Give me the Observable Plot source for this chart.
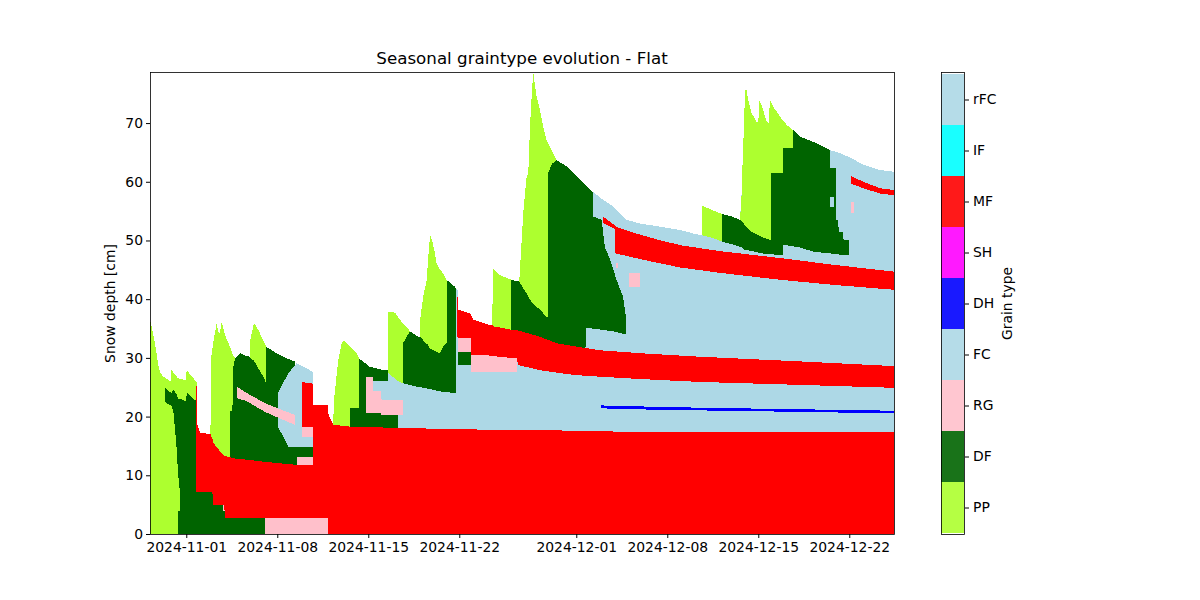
<!DOCTYPE html>
<html>
<head>
<meta charset="utf-8">
<script src="https://cdn.jsdelivr.net/npm/d3@7"></script>
<script src="https://cdn.jsdelivr.net/npm/@observablehq/plot@0.6"></script>
<style>
  html, body { margin: 0; padding: 0; background: #fff; }
  #wrap { position: relative; width: 1200px; height: 600px; background: #fff; font-family: "DejaVu Sans", sans-serif; }
  #title { position: absolute; left: 150px; width: 744px; top: 48px; text-align: center; font-size: 16.7px; color: #000; line-height: 20px; }
  #main { position: absolute; left: 0; top: 0; }
  #cbar { position: absolute; left: 900px; top: 0; }
</style>
</head>
<body>
<div id="wrap">
  <div id="main"></div>
  <div id="cbar"></div>
  <div id="title">Seasonal graintype evolution - Flat</div>
</div>
<script>
// ---- Data: days are offsets from the season reference date (2024-11-01 00:00 UTC)
const seasonStart = "2024-11-01T00:00Z";
const xDomain = ["2024-10-29T05:02Z", "2024-12-25T10:34Z"];
const xTicks = ["2024-11-01", "2024-11-08", "2024-11-15", "2024-11-22", "2024-12-01", "2024-12-08", "2024-12-15", "2024-12-22"];
const yTicks = [0, 10, 20, 30, 40, 50, 60, 70];
const yMax = 78.7;

const grainTypes = ["PP", "DF", "RG", "FC", "DH", "SH", "MF", "IF", "rFC"];
const grainColors = ["#adff2f", "#006400", "#ffc0cb", "#add8e6", "#0000ff", "#ff00ff", "#ff0000", "#00ffff", "#add8e6"];

// each layer: [day, bottom cm, top cm]
const ppA = [[-2.79,0,36.3],[-2.72,0,35.9],[-2.41,0,32.5],[-2.15,0,28.8],[-2.02,0,27.6],[-1.77,0,26.8],[-1.2,0,26.0],[-1.14,0,27.9],[-0.62,0,26.5],[-0.02,0,26.2],[0.03,0,27.9],[0.67,0,26.2],[0.8,0,25.9]];
const dfA = [[-1.64,22.5,24.9],[-1.15,21.8,24.0],[-1.0,21.1,24.6],[-0.77,15.5,23.9],[-0.62,10,23.1],[-0.5,7.5,23.0],[-0.45,0,23.0],[0.0,0,22.6],[0.03,0,24.2],[0.67,0,22.8],[0.8,0,22.7]];
const dfA2 = [[-0.62,0,4.0],[-0.45,0,4.0]];
const ppB1 = [[1.86,0,17.0],[1.9,0,29.9],[2.1,0,33.0],[2.34,0,35.9],[2.45,0,34.5],[2.6,0,34.2],[2.68,0,35.9],[2.75,0,35.9],[3.0,0,33.8],[3.36,0,31.9],[3.59,0,30.5],[3.75,0,30.0]];
const dfB = [[3.4,12,21.0],[3.55,12,21.0],[3.6,0,28.2],[3.75,0,29.8],[4.13,0,30.8],[4.5,0,30.4],[4.88,0,30.2],[5.21,0,30.5],[5.6,0,29.0],[6.0,0,27.5],[6.13,0,26.6],[6.15,0,31.9],[7.0,0,30.7],[7.85,0,29.8],[8.36,0,29.4],[8.45,0,15.0],[9.77,0,14.9]];
const ppB2 = [[4.88,30.0,30.2],[4.92,30.0,33.0],[5.21,29.5,36.0],[5.6,28.0,34.5],[6.0,26.5,32.6],[6.15,25.6,31.9]];
const fcB = [[7.05,18.3,24.0],[7.85,14.9,27.4],[8.49,14.9,29.1],[9.0,14.9,28.5],[9.77,14.9,27.6]];
const rgB = [[3.88,24.8,25.1],[3.95,23.0,25.0],[4.5,22.8,24.2],[6.05,20.8,22.3],[7.5,19.4,21.0],[8.36,18.6,20.3]];
const rgB2 = [[8.49,11.8,13.2],[9.77,11.8,13.2]];
const mfB = [[8.88,18.3,25.9],[9.77,18.3,25.6]];
const rgB3 = [[8.88,16.6,18.3],[9.77,16.6,18.3]];
const dfStrip = [[0.8,0,7.5],[6.05,0,7.5]];
const rgBottom = [[6.05,0,2.8],[10.92,0,2.8]];
const rgTiny = [[2.8,4.0,4.9],[2.98,4.0,4.9]];
const mfA = [[0.78,7.2,25.9],[0.86,7.2,18.6],[1.05,7.2,17.3],[1.86,7.2,17.0],[1.9,7.2,16.8],[2.0,7.2,16.3],[2.1,4.9,15.5],[2.72,4.9,13.7],[2.9,4.9,13.4],[3.0,2.8,13.3],[3.62,2.8,12.9],[5.28,2.8,12.5],[6.0,2.8,12.3],[8.36,2.8,11.8],[9.75,2.8,11.8],[9.77,2.8,22.0],[10.88,2.8,22.0]];
const pp3 = [[11.3,0,18.6],[11.36,0,22.8],[11.69,0,29.6],[11.95,0,32.5],[12.13,0,33.0],[12.59,0,31.9],[13.1,0,30.8],[13.3,0,29.9]];
const pp4 = [[15.5,0,27.9],[15.55,0,37.9],[16.05,0,37.7],[16.67,0,35.8],[16.95,0,35.3],[17.2,0,34.5]];
const dfC3 = [[12.59,0,21.4],[13.28,0,21.4],[13.3,0,29.9],[13.7,0,29.2],[14.1,0,28.5],[15.0,0,28.0],[15.5,0,27.9],[15.52,0,20.6],[16.3,0,20.6]];
const dfC4 = [[16.67,0,32.5],[17.2,0,34.5],[17.85,0,33.6],[17.97,0,33.6],[18.0,0,34.6],[18.23,0,34.0],[18.5,0,33.4],[18.75,0,32.6],[19.26,0,32.0],[19.52,0,31.8],[19.77,0,33.0],[20.0,0,33.5],[20.03,0,43.3],[20.67,0,42.1],[20.75,0,41.8]];
const pp5 = [[17.95,33.6,33.6],[18.0,33.6,36.7],[18.23,33.0,40.5],[18.5,32.4,43.3],[18.6,32.2,46.7],[18.75,31.6,50.9],[18.9,31.4,50.1],[19.13,31.2,47.8],[19.26,31.0,46.1],[19.52,30.8,45.0],[19.77,32.0,44.4],[20.03,32.5,43.3]];
const fcC = [[14.38,20.6,26.0],[15.5,20.6,26.0],[15.55,20.6,27.4],[16.3,20.6,26.0],[16.32,0,26.0],[16.67,0,25.7],[17.5,0,25.2],[18.5,0,24.8],[19.5,0,24.3],[20.67,0,24.0],[20.75,0,24.0]];
const rgC = [[13.82,20.6,26.8],[14.38,20.6,26.8],[14.4,20.6,24.3],[15.0,20.6,24.3],[15.02,20.3,22.8],[16.67,20.3,22.8]];
const fcD = [[20.74,0,41.7],[20.88,0,41.6],[20.93,0,38.2],[21.82,0,37.6],[22.08,0,36.5],[23.36,0,35.6],[23.55,0,35.6],[23.57,0,45.3],[24.1,0,44.1],[25.0,0,43.3],[25.62,0,43.0],[25.8,0,50.1],[25.92,0,54.6],[26.18,0,60.9],[26.31,0,61.5],[26.44,0,69.4],[26.57,0,74.5],[26.69,0,78.7],[26.82,0,76.5],[26.95,0,74.5],[27.21,0,72.2],[27.46,0,69.4],[27.72,0,67.1],[28.11,0,65.4],[28.49,0,63.7],[29.26,0,62.6],[30.03,0,60.9],[30.8,0,59.2],[31.26,0,58.3],[32.08,0,56.9],[32.85,0,55.8],[33.88,0,53.5],[34.9,0,52.9],[37.98,0,51.8],[38.98,0,51.2],[39.65,0,50.9],[39.67,0,56.0],[40.03,0,55.6],[40.54,0,55.1],[41.1,0,54.6],[41.95,0,54.1],[42.59,0,53.5],[42.72,0,58.0],[42.8,0,63.7],[42.9,0,69.4],[42.98,0,75.6],[43.1,0,75.6],[43.23,0,73.9],[43.49,0,71.7],[43.88,0,70.2],[44.0,0,70.0],[44.08,0,73.9],[44.26,0,73.0],[44.65,0,70.2],[44.8,0,70.0],[44.9,0,73.9],[45.15,0,72.8],[45.67,0,71.1],[46.18,0,69.7],[46.69,0,68.8],[47.21,0,67.7],[48.23,0,66.8],[49.0,0,66.0],[49.5,0,65.4],[50.28,0,64.9],[51.18,0,64.0],[52.08,0,62.9],[53.36,0,62.0],[54.44,0,61.7]];
const dfD0 = [[20.88,28.8,31.1],[21.87,28.8,31.1]];
const rgD1 = [[20.88,31.0,33.5],[21.87,31.0,33.5]];
const rgD2 = [[21.88,27.6,30.6],[25.45,27.6,30.6]];
const pp6 = [[23.55,35.4,35.6],[23.57,35.3,45.3],[24.1,35.1,44.1],[25.0,34.8,43.3]];
const dfD = [[25.0,31,43.3],[25.62,31,43.0],[25.8,31,43.3],[26.18,31,42.0],[26.69,31,40.2],[27.21,31,39.2],[27.72,31,38.0],[27.8,31,38.0],[27.85,31,61.5],[28.11,31,63.0],[28.49,31,63.7],[29.26,31,62.6],[30.03,31,60.9],[30.7,31,59.4],[30.75,35.1,59.3],[30.8,35.1,59.2],[31.26,35.0,58.3],[31.3,35.0,54.1],[31.95,34.8,53.5],[32.2,34.7,48.9],[32.6,34.6,46.7],[33.1,34.4,43.3],[33.6,34.1,40.4],[33.82,34.0,37.0]];
const pp7 = [[25.6,43.0,43.0],[25.62,42.9,43.3],[25.8,42.3,50.1],[25.92,41.8,54.6],[26.18,41.0,60.9],[26.31,40.5,61.5],[26.44,39.9,69.4],[26.57,39.5,74.5],[26.69,39.2,78.7],[26.82,39.0,76.5],[26.95,38.7,74.5],[27.21,38.2,72.2],[27.46,37.6,69.4],[27.72,37.0,67.1],[27.8,37.0,66.8],[27.85,61.5,66.5],[28.11,63.0,65.4],[28.49,63.7,63.7]];
const mfD = [[20.86,33.6,40.4],[20.93,33.4,38.2],[21.82,33.4,37.6],[21.87,33.4,37.45],[21.88,30.5,37.4],[22.08,30.5,36.5],[23.36,30.4,35.6],[23.55,30.3,35.6],[23.57,30.3,35.4],[25.0,30.0,34.8],[25.45,30.0,34.8],[25.5,28.8,34.7],[27.2,27.9,33.6],[28.49,27.5,32.5],[29.8,27.1,32.0],[31.8,26.8,31.3],[34.9,26.4,30.8],[39.5,25.9,30.2],[47.2,25.4,29.4],[54.44,24.9,28.6]];
const mfE = [[32.05,53.0,54.1],[32.95,52.0,52.6],[33.0,47.8,52.4],[34.0,47.3,51.6],[36.0,46.3,50.3],[38.0,45.4,49.2],[41.0,44.5,48.2],[45.7,43.3,47.0],[50.0,42.4,45.8],[54.44,41.6,44.7]];
const rgE1 = [[33.06,45.3,46.1],[33.24,45.3,46.1]];
const rgE2 = [[34.05,42.1,44.4],[34.9,42.1,44.4]];
const rgE3 = [[51.1,54.7,56.6],[51.35,54.7,56.6]];
const pp8 = [[39.65,50.9,50.9],[39.67,50.9,56.0],[40.03,50.7,55.6],[40.54,50.4,55.1],[41.1,49.9,54.6],[41.2,49.8,54.57]];
const df9 = [[41.18,49.8,54.55],[41.95,49.4,54.1],[42.59,48.9,53.5],[42.65,48.9,54.4],[42.97,48.4,53.4],[43.5,48.2,52.5],[44.26,47.8,51.6],[45.28,47.6,50.8],[45.9,47.5,50.6]];
const pp9 = [[42.6,53.5,53.5],[42.72,53.3,58.0],[42.8,53.1,63.7],[42.9,52.8,69.4],[42.98,52.5,75.6],[43.1,52.3,75.6],[43.23,52.0,73.9],[43.49,51.5,71.7],[43.88,51.0,70.2],[44.0,50.9,70.0],[44.08,50.8,73.9],[44.26,50.6,73.0],[44.65,50.3,70.2],[44.8,50.2,70.0],[44.9,50.1,73.9],[45.15,49.9,72.8],[45.67,49.7,71.1],[46.18,49.6,69.7],[46.69,49.5,68.8],[46.75,68.7,68.7]];
const df10a = [[45.0,49.8,61.5],[45.88,49.3,61.5],[45.9,49.3,65.8],[46.67,49.0,65.8],[46.69,49.0,68.8],[47.21,48.8,67.7],[48.23,48.1,66.8],[49.0,47.9,66.0],[49.5,47.8,65.4]];
const df10b = [[49.5,47.8,62.4],[49.98,47.7,62.4],[50.0,47.7,53.5],[50.16,47.7,53.5],[50.18,47.6,51.5],[50.54,47.6,51.5],[50.56,47.5,50.1],[51.0,47.5,50.1]];
const fcE = [[49.5,55.7,57.4],[49.85,55.7,57.4]];
const mfE3 = [[51.1,59.7,61.0],[52.08,58.9,60.0],[53.36,58.0,58.9],[54.44,57.7,58.6]];
const mfC = [[10.88,0,22.0],[10.92,0,20.6],[11.1,0,19.5],[11.3,0,18.6],[12.6,0,18.3],[17.4,0,18.0],[21.0,0,17.9],[23.0,0,17.75],[28.4,0,17.65],[31.8,0,17.5],[34.4,0,17.4],[44.3,0,17.3],[54.44,0,17.3]];
const dhE = [[31.9,21.4,21.9],[34.0,21.3,21.8],[36.2,21.15,21.65],[41.3,21.0,21.45],[45.7,20.85,21.3],[50.0,20.7,21.15],[54.44,20.55,21.0]];

// drawing order (later layers paint over earlier ones)
const layers = [
  ["PP", ppA], ["DF", dfA], ["DF", dfA2], ["PP", ppB1], ["DF", dfB], ["PP", ppB2], ["FC", fcB],
  ["RG", rgB], ["RG", rgB2], ["MF", mfB], ["RG", rgB3], ["DF", dfStrip], ["RG", rgBottom], ["RG", rgTiny],
  ["MF", mfA], ["PP", pp3], ["PP", pp4], ["DF", dfC3], ["DF", dfC4], ["PP", pp5], ["FC", fcC], ["RG", rgC],
  ["FC", fcD], ["DF", dfD0], ["RG", rgD1], ["RG", rgD2], ["PP", pp6], ["DF", dfD], ["PP", pp7], ["MF", mfD],
  ["MF", mfE], ["RG", rgE1], ["RG", rgE2], ["PP", pp8], ["DF", df9], ["PP", pp9], ["DF", df10a], ["DF", df10b],
  ["FC", fcE], ["MF", mfE3], ["RG", rgE3], ["MF", mfC], ["DH", dhE]
];

const t0 = new Date(seasonStart).getTime();
const toDate = d => new Date(t0 + d * 864e5);

const areaMarks = layers.map(([type, pts]) =>
  Plot.areaY(pts, {
    x: p => toDate(p[0]), y1: p => p[1], y2: p => p[2],
    fill: () => type, curve: "linear", shapeRendering: "crispEdges"
  })
);

const main = Plot.plot({
  width: 920, height: 600,
  marginLeft: 150, marginRight: 26, marginTop: 72, marginBottom: 66,
  style: { fontFamily: "DejaVu Sans, sans-serif", fontSize: "13.9px", color: "#000", background: "transparent", overflow: "visible" },
  x: { type: "utc", domain: xDomain.map(s => new Date(s)), ticks: xTicks.map(s => new Date(s + "T00:00Z")),
       tickFormat: d3.utcFormat("%Y-%m-%d"), tickSize: 4, tickPadding: 3.5, label: null },
  y: { domain: [0, yMax], ticks: yTicks, tickSize: 4, tickPadding: 3.5,
       label: "Snow depth [cm]", labelAnchor: "center", labelOffset: 45, labelArrow: "none" },
  color: { domain: grainTypes, range: grainColors },
  marks: [...areaMarks, Plot.frame({ stroke: "#000", strokeWidth: 0.8 })]
});
document.getElementById("main").appendChild(main);

const cbar = Plot.plot({
  width: 300, height: 600,
  marginLeft: 41, marginRight: 236, marginTop: 72, marginBottom: 66,
  style: { fontFamily: "DejaVu Sans, sans-serif", fontSize: "13.9px", color: "#000", background: "transparent", overflow: "visible" },
  x: { axis: null, domain: [0, 1] },
  y: { domain: grainTypes.slice().reverse(), padding: 0, axis: "right", tickSize: 4, tickPadding: 4.5,
       label: "Grain type", labelAnchor: "center", labelOffset: 47, labelArrow: "none" },
  color: { domain: grainTypes, range: grainColors },
  marks: [
    Plot.barX(grainTypes, { x1: 0, x2: 1, y: d => d, fill: d => d, fillOpacity: 0.9 }),
    Plot.frame({ stroke: "#000", strokeWidth: 0.8 })
  ]
});
document.getElementById("cbar").appendChild(cbar);
</script>
</body>
</html>
